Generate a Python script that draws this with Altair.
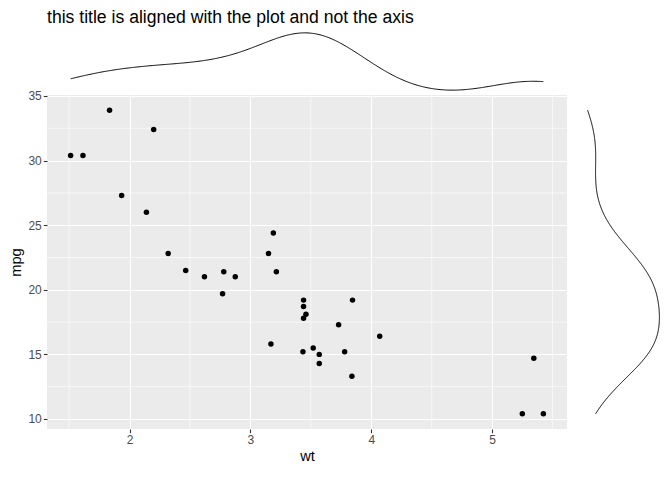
import altair as alt
import pandas as pd
import numpy as np

# mtcars: weight (1000 lbs) and miles per gallon
car_wt = [2.620, 2.875, 2.320, 3.215, 3.440, 3.460, 3.570, 3.190, 3.150, 3.440,
          3.440, 4.070, 3.730, 3.780, 5.250, 5.424, 5.345, 2.200, 1.615, 1.835,
          2.465, 3.520, 3.435, 3.840, 3.845, 1.935, 2.140, 1.513, 3.170, 2.770,
          3.570, 2.780]
car_mpg = [21.0, 21.0, 22.8, 21.4, 18.7, 18.1, 14.3, 24.4, 22.8, 19.2,
           17.8, 16.4, 17.3, 15.2, 10.4, 10.4, 14.7, 32.4, 30.4, 33.9,
           21.5, 15.5, 15.2, 13.3, 19.2, 27.3, 26.0, 30.4, 15.8, 19.7,
           15.0, 21.4]

x_ticks = [2, 3, 4, 5]
y_ticks = [10, 15, 20, 25, 30, 35]
x_minor = [1.5, 2.5, 3.5, 4.5, 5.5]
y_minor = [12.5, 17.5, 22.5, 27.5, 32.5]
title_text = "this title is aligned with the plot and not the axis"

df = pd.DataFrame({"wt": car_wt, "mpg": car_mpg})


def expand(v, mult=0.05):
    lo, hi = float(min(v)), float(max(v))
    s = hi - lo
    return [lo - mult * s, hi + mult * s]


def bw_nrd0(v):
    a = np.asarray(v, dtype=float)
    sd = a.std(ddof=1)
    q75, q25 = np.percentile(a, [75, 25])
    lo = min(sd, (q75 - q25) / 1.34)
    return float(0.9 * lo * len(a) ** -0.2)


def density_domain(v, bw, steps=512):
    a = np.asarray(v, dtype=float)
    g = np.linspace(a.min(), a.max(), steps)
    d = np.exp(-0.5 * ((g[:, None] - a[None, :]) / bw) ** 2).sum(1) / (len(a) * bw * np.sqrt(2 * np.pi))
    return expand([d.min(), d.max()])


bw_wt = bw_nrd0(car_wt)
bw_mpg = bw_nrd0(car_mpg)

xs = alt.Scale(domain=expand(car_wt), nice=False, zero=False)
ys = alt.Scale(domain=expand(car_mpg), nice=False, zero=False)

axis_common = dict(
    grid=True, gridColor="white", gridWidth=1.1, domain=False,
    tickColor="#333333", tickSize=3.7, tickWidth=1.1,
    labelColor="#4D4D4D", labelFontSize=12, labelPadding=2,
    titleFontSize=14.7, titleColor="black", titleFontWeight="normal",
)

x_axis = alt.Axis(values=x_ticks, title="wt", titlePadding=3, **axis_common)
y_axis = alt.Axis(values=y_ticks, title="mpg", titlePadding=4, **axis_common)

points = alt.Chart(df).mark_circle(size=30, color="black", opacity=1).encode(
    x=alt.X("wt:Q", scale=xs, axis=x_axis),
    y=alt.Y("mpg:Q", scale=ys, axis=y_axis),
)

minor_x_rules = alt.Chart(pd.DataFrame({"wt": x_minor})).mark_rule(
    color="white", strokeWidth=0.6
).encode(x=alt.X("wt:Q", scale=xs, axis=x_axis))

minor_y_rules = alt.Chart(pd.DataFrame({"mpg": y_minor})).mark_rule(
    color="white", strokeWidth=0.6
).encode(y=alt.Y("mpg:Q", scale=ys, axis=y_axis))

main = alt.layer(minor_x_rules, minor_y_rules, points).properties(
    width=520, height=334,
    view=alt.ViewBackground(fill="#EBEBEB", stroke=None),
)

top = alt.Chart(df).transform_density(
    "wt", as_=["wt", "density"], bandwidth=bw_wt,
    extent=[min(car_wt), max(car_wt)], steps=512,
).mark_line(color="black", strokeWidth=1).encode(
    x=alt.X("wt:Q", scale=xs, axis=None),
    y=alt.Y("density:Q", scale=alt.Scale(domain=density_domain(car_wt, bw_wt), nice=False, zero=False), axis=None),
).properties(width=520, height=63)

right = alt.Chart(df).transform_density(
    "mpg", as_=["mpg", "density"], bandwidth=bw_mpg,
    extent=[min(car_mpg), max(car_mpg)], steps=512,
).mark_line(color="black", strokeWidth=1).encode(
    x=alt.X("density:Q", scale=alt.Scale(domain=density_domain(car_mpg, bw_mpg), nice=False, zero=False), axis=None),
    y=alt.Y("mpg:Q", scale=ys, axis=None),
    order=alt.Order("mpg:Q"),
).properties(width=79, height=334)

blank = alt.Chart(pd.DataFrame({"a": [0]})).mark_point(opacity=0, size=0).encode(
    x=alt.value(0), y=alt.value(0)
).properties(width=79, height=63)

chart = alt.concat(
    top, blank, main, right, columns=2, spacing={"row": 2, "column": 17}
).properties(
    title=alt.TitleParams(title_text, anchor="start", frame="group", fontSize=17.6,
                          fontWeight="normal", color="black", offset=3),
    bounds="flush",
    padding={"left": 0, "top": 1, "right": 0, "bottom": 0},
).configure(font="Liberation Sans").configure_view(stroke=None)

chart.save("out.html", embed_options={"renderer": "svg", "actions": False})
